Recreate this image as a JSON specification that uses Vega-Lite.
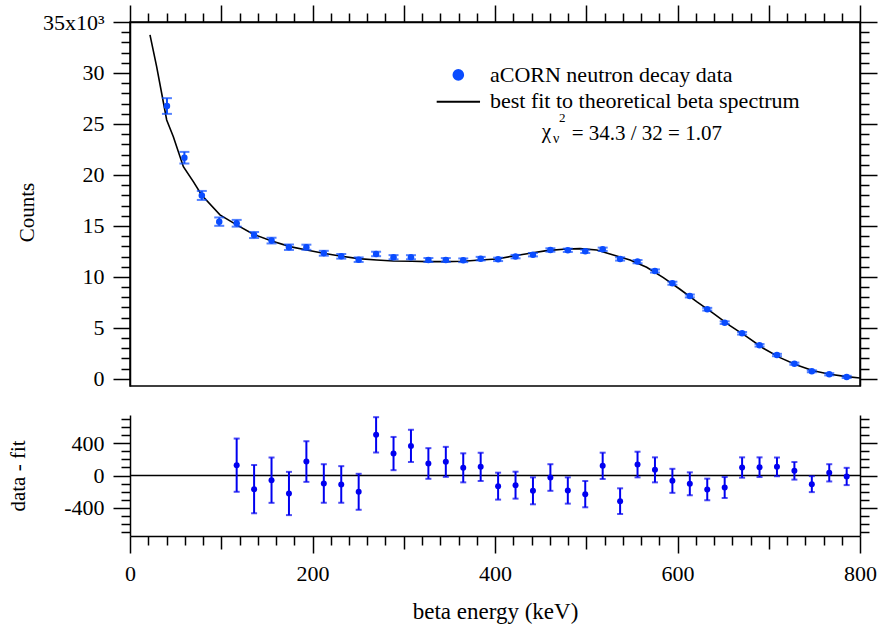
{
  "$schema": "https://vega.github.io/schema/vega-lite/v6.json",
  "background": "white",
  "padding": {"left": 7, "top": 3, "right": 3, "bottom": 3},
  "bounds": "flush",
  "spacing": 29,
  "config": {
    "font": "Liberation Serif",
    "view": {"stroke": null},
    "text": {"font": "Liberation Serif"},
    "axis": {
      "domainColor": "black", "tickColor": "black", "labelColor": "black", "titleColor": "black",
      "domainWidth": 1.5, "tickWidth": 1.5, "grid": false,
      "labelFont": "Liberation Serif", "titleFont": "Liberation Serif",
      "labelFontSize": 22, "titleFontSize": 21, "titleFontWeight": "normal",
      "labelOverlap": false, "labelFlush": false, "labelBound": false, "labelPadding": 9
    }
  },
  "datasets": {
    "spectrum": [
      {"E": 40.5, "counts": 26760, "err": 770, "resid": null},
      {"E": 59.6, "counts": 21690, "err": 570, "resid": null},
      {"E": 78.7, "counts": 17990, "err": 440, "resid": null},
      {"E": 97.8, "counts": 15420, "err": 410, "resid": null},
      {"E": 116.9, "counts": 15260, "err": 330, "resid": 128},
      {"E": 136.0, "counts": 14110, "err": 299, "resid": -169},
      {"E": 155.1, "counts": 13560, "err": 281, "resid": -58},
      {"E": 174.2, "counts": 12910, "err": 268, "resid": -223},
      {"E": 193.3, "counts": 12910, "err": 252, "resid": 173},
      {"E": 212.4, "counts": 12320, "err": 239, "resid": -99},
      {"E": 231.5, "counts": 12020, "err": 227, "resid": -111},
      {"E": 250.6, "counts": 11690, "err": 223, "resid": -202},
      {"E": 269.7, "counts": 12250, "err": 219, "resid": 504},
      {"E": 288.8, "counts": 11930, "err": 206, "resid": 272},
      {"E": 307.9, "counts": 11930, "err": 200, "resid": 367},
      {"E": 327.0, "counts": 11660, "err": 190, "resid": 149},
      {"E": 346.1, "counts": 11660, "err": 186, "resid": 169},
      {"E": 365.2, "counts": 11630, "err": 180, "resid": 95},
      {"E": 384.3, "counts": 11790, "err": 175, "resid": 107},
      {"E": 403.4, "counts": 11720, "err": 167, "resid": -132},
      {"E": 422.5, "counts": 11990, "err": 167, "resid": -120},
      {"E": 441.6, "counts": 12180, "err": 167, "resid": -190},
      {"E": 460.7, "counts": 12640, "err": 165, "resid": -25},
      {"E": 479.8, "counts": 12610, "err": 163, "resid": -186},
      {"E": 498.9, "counts": 12510, "err": 163, "resid": -231},
      {"E": 518.0, "counts": 12710, "err": 163, "resid": 120},
      {"E": 537.1, "counts": 11760, "err": 159, "resid": -318},
      {"E": 556.2, "counts": 11500, "err": 159, "resid": 136},
      {"E": 575.3, "counts": 10580, "err": 155, "resid": 70},
      {"E": 594.4, "counts": 9380, "err": 149, "resid": -66},
      {"E": 613.5, "counts": 8130, "err": 142, "resid": -103},
      {"E": 632.6, "counts": 6830, "err": 134, "resid": -173},
      {"E": 651.7, "counts": 5510, "err": 130, "resid": -149},
      {"E": 670.8, "counts": 4470, "err": 126, "resid": 99},
      {"E": 689.9, "counts": 3290, "err": 122, "resid": 103},
      {"E": 709.0, "counts": 2340, "err": 116, "resid": 107},
      {"E": 728.1, "counts": 1490, "err": 109, "resid": 58},
      {"E": 747.2, "counts": 745, "err": 99, "resid": -107},
      {"E": 766.3, "counts": 450, "err": 107, "resid": 33},
      {"E": 785.4, "counts": 190, "err": 107, "resid": -12}
    ],
    "fit": [
      {"E": 21.9, "fit": 33730}, {"E": 29.2, "fit": 30620}, {"E": 34.7, "fit": 28010},
      {"E": 40.2, "fit": 25390}, {"E": 47.5, "fit": 23750}, {"E": 58.5, "fit": 20810},
      {"E": 69.4, "fit": 19340}, {"E": 78.5, "fit": 18040}, {"E": 98.6, "fit": 16080},
      {"E": 116.9, "fit": 15100}, {"E": 135.2, "fit": 14180}, {"E": 155.3, "fit": 13520},
      {"E": 175.3, "fit": 12970}, {"E": 193.6, "fit": 12640}, {"E": 211.9, "fit": 12320},
      {"E": 230.1, "fit": 12050}, {"E": 250.2, "fit": 11790}, {"E": 270.3, "fit": 11660},
      {"E": 288.6, "fit": 11560}, {"E": 308.7, "fit": 11530}, {"E": 326.9, "fit": 11500},
      {"E": 345.2, "fit": 11500}, {"E": 365.3, "fit": 11530}, {"E": 383.6, "fit": 11660},
      {"E": 401.8, "fit": 11760}, {"E": 420.0, "fit": 12050}, {"E": 438.4, "fit": 12320},
      {"E": 456.6, "fit": 12580}, {"E": 478.5, "fit": 12740}, {"E": 493.2, "fit": 12770},
      {"E": 511.5, "fit": 12640}, {"E": 529.7, "fit": 12150}, {"E": 548.0, "fit": 11660},
      {"E": 566.2, "fit": 10950}, {"E": 584.5, "fit": 9930}, {"E": 602.7, "fit": 8790},
      {"E": 621.0, "fit": 7570}, {"E": 639.3, "fit": 6430}, {"E": 657.5, "fit": 5220},
      {"E": 675.8, "fit": 4140}, {"E": 694.0, "fit": 3000}, {"E": 712.3, "fit": 2080},
      {"E": 730.6, "fit": 1360}, {"E": 748.8, "fit": 800}, {"E": 767.0, "fit": 450},
      {"E": 785.4, "fit": 220}, {"E": 800.0, "fit": 90}
    ]
  },
  "vconcat": [
    {
      "width": 730,
      "height": 364,
      "view": {"stroke": "black", "strokeWidth": 1.5},
      "layer": [
        {
          "data": {"name": "fit"},
          "mark": {"type": "line", "color": "black", "strokeWidth": 1.6},
          "encoding": {
            "x": {"field": "E", "type": "quantitative",
              "scale": {"domain": [0, 800], "nice": false, "zero": false},
              "axis": {"orient": "top", "title": null, "labels": false,
                "values": [0,20,40,60,80,100,120,140,160,180,200,220,240,260,280,300,320,340,360,380,400,420,440,460,480,500,520,540,560,580,600,620,640,660,680,700,720,740,760,780,800],
                "tickSize": {"condition": {"test": "datum.value % 100 === 0", "value": 17}, "value": 9}}},
            "y": {"field": "fit", "type": "quantitative",
              "scale": {"domain": [-700, 35000], "nice": false, "zero": false},
              "axis": {"orient": "right", "title": null, "labels": false,
                "values": [0,1000,2000,3000,4000,5000,6000,7000,8000,9000,10000,11000,12000,13000,14000,15000,16000,17000,18000,19000,20000,21000,22000,23000,24000,25000,26000,27000,28000,29000,30000,31000,32000,33000,34000,35000],
                "tickSize": {"condition": {"test": "datum.value % 5000 === 0", "value": 17}, "value": 9}}}
          }
        },
        {
          "data": {"name": "spectrum"},
          "mark": {"type": "errorbar", "color": "#0a4cff", "thickness": 2, "ticks": {"size": 10, "thickness": 2}},
          "encoding": {
            "x": {"field": "E", "type": "quantitative", "scale": {"domain": [0, 800], "nice": false, "zero": false}, "axis": null},
            "y": {"field": "counts", "type": "quantitative", "scale": {"domain": [-700, 35000], "nice": false, "zero": false}, "axis": null},
            "yError": {"field": "err"}
          }
        },
        {
          "data": {"name": "spectrum"},
          "mark": {"type": "circle", "size": 42, "color": "#0a4cff", "opacity": 1},
          "encoding": {
            "x": {"field": "E", "type": "quantitative", "scale": {"domain": [0, 800], "nice": false, "zero": false}, "axis": null},
            "y": {"field": "counts", "type": "quantitative",
              "scale": {"domain": [-700, 35000], "nice": false, "zero": false},
              "axis": {"orient": "left", "title": "Counts", "titleX": -103, "titleY": 190, "titleBaseline": "middle", "titleAngle": 270,
                "values": [0,1000,2000,3000,4000,5000,6000,7000,8000,9000,10000,11000,12000,13000,14000,15000,16000,17000,18000,19000,20000,21000,22000,23000,24000,25000,26000,27000,28000,29000,30000,31000,32000,33000,34000,35000],
                "labelExpr": "datum.value % 5000 === 0 ? (datum.value === 35000 ? '35x10³' : '' + datum.value / 1000) : ''",
                "tickSize": {"condition": {"test": "datum.value % 5000 === 0", "value": 17}, "value": 9}}}
          }
        },
        {
          "data": {"values": [{}]},
          "mark": {"type": "circle", "size": 135, "color": "#0a4cff", "opacity": 1},
          "encoding": {
            "x": {"datum": 359.8, "type": "quantitative", "axis": null},
            "y": {"datum": 29810, "type": "quantitative", "axis": null}
          }
        },
        {
          "data": {"values": [{}]},
          "mark": {"type": "rule", "color": "black", "strokeWidth": 2},
          "encoding": {
            "x": {"datum": 336.1, "type": "quantitative", "axis": null},
            "x2": {"datum": 383.6},
            "y": {"datum": 27190, "type": "quantitative", "axis": null}
          }
        },
        {
          "data": {"values": [{}]},
          "mark": {"type": "text", "align": "left", "baseline": "alphabetic", "fontSize": 22, "color": "black", "font": "Liberation Serif"},
          "encoding": {
            "x": {"datum": 394.5, "type": "quantitative", "axis": null},
            "y": {"datum": 29150, "type": "quantitative", "axis": null},
            "text": {"value": "aCORN neutron decay data"}
          }
        },
        {
          "data": {"values": [{}]},
          "mark": {"type": "text", "align": "left", "baseline": "alphabetic", "fontSize": 22, "color": "black", "font": "Liberation Serif"},
          "encoding": {
            "x": {"datum": 394.5, "type": "quantitative", "axis": null},
            "y": {"datum": 26540, "type": "quantitative", "axis": null},
            "text": {"value": "best fit to theoretical beta spectrum"}
          }
        },
        {
          "data": {"values": [{}]},
          "mark": {"type": "text", "align": "left", "baseline": "alphabetic", "fontSize": 21, "color": "black", "font": "Liberation Serif"},
          "encoding": {
            "x": {"datum": 451.2, "type": "quantitative", "axis": null},
            "y": {"datum": 23630, "type": "quantitative", "axis": null},
            "text": {"value": "χ"}
          }
        },
        {
          "data": {"values": [{}]},
          "mark": {"type": "text", "align": "left", "baseline": "alphabetic", "fontSize": 14, "color": "black", "font": "Liberation Serif"},
          "encoding": {
            "x": {"datum": 463.6, "type": "quantitative", "axis": null},
            "y": {"datum": 23110, "type": "quantitative", "axis": null},
            "text": {"value": "ν"}
          }
        },
        {
          "data": {"values": [{}]},
          "mark": {"type": "text", "align": "left", "baseline": "alphabetic", "fontSize": 13, "color": "black", "font": "Liberation Serif"},
          "encoding": {
            "x": {"datum": 470, "type": "quantitative", "axis": null},
            "y": {"datum": 25230, "type": "quantitative", "axis": null},
            "text": {"value": "2"}
          }
        },
        {
          "data": {"values": [{}]},
          "mark": {"type": "text", "align": "left", "baseline": "alphabetic", "fontSize": 21, "color": "black", "font": "Liberation Serif"},
          "encoding": {
            "x": {"datum": 484, "type": "quantitative", "axis": null},
            "y": {"datum": 23430, "type": "quantitative", "axis": null},
            "text": {"value": "= 34.3 / 32 = 1.07"}
          }
        }
      ],
      "resolve": {"axis": {"x": "independent", "y": "independent"}}
    },
    {
      "width": 730,
      "height": 121,
      "view": {"stroke": null},
      "layer": [
        {
          "data": {"values": [{}]},
          "mark": {"type": "rule", "color": "black", "strokeWidth": 1.5},
          "encoding": {
            "y": {"datum": 0, "type": "quantitative",
              "scale": {"domain": [-750, 750], "nice": false, "zero": false},
              "axis": {"orient": "right", "title": null, "labels": false,
                "values": [-700,-600,-500,-400,-300,-200,-100,0,100,200,300,400,500,600,700],
                "tickSize": {"condition": {"test": "datum.value % 400 === 0", "value": 17}, "value": 9}}}
          }
        },
        {
          "data": {"name": "spectrum"},
          "transform": [{"filter": "isValid(datum.resid)"}],
          "mark": {"type": "errorbar", "color": "#0000f0", "thickness": 2, "ticks": {"size": 6, "thickness": 2}},
          "encoding": {
            "x": {"field": "E", "type": "quantitative", "scale": {"domain": [0, 800], "nice": false, "zero": false}, "axis": null},
            "y": {"field": "resid", "type": "quantitative", "scale": {"domain": [-750, 750], "nice": false, "zero": false}, "axis": null},
            "yError": {"field": "err"}
          }
        },
        {
          "data": {"name": "spectrum"},
          "transform": [{"filter": "isValid(datum.resid)"}],
          "mark": {"type": "circle", "size": 36, "color": "#0000f0", "opacity": 1},
          "encoding": {
            "x": {"field": "E", "type": "quantitative",
              "scale": {"domain": [0, 800], "nice": false, "zero": false},
              "axis": {"orient": "bottom", "title": "beta energy (keV)", "titleFontSize": 23,
                "titleY": 75, "titleBaseline": "middle",
                "labelBaseline": "middle", "labelPadding": 20,
                "values": [0,20,40,60,80,100,120,140,160,180,200,220,240,260,280,300,320,340,360,380,400,420,440,460,480,500,520,540,560,580,600,620,640,660,680,700,720,740,760,780,800],
                "labelExpr": "datum.value % 200 === 0 ? '' + datum.value : ''",
                "tickSize": {"condition": [{"test": "datum.value % 200 === 0", "value": 17}, {"test": "datum.value % 100 === 0", "value": 13}], "value": 9}}},
            "y": {"field": "resid", "type": "quantitative",
              "scale": {"domain": [-750, 750], "nice": false, "zero": false},
              "axis": {"orient": "left", "title": "data - fit", "titleX": -112, "titleBaseline": "middle", "titleAngle": 270,
                "values": [-700,-600,-500,-400,-300,-200,-100,0,100,200,300,400,500,600,700],
                "labelExpr": "datum.value % 400 === 0 ? '' + datum.value : ''",
                "tickSize": {"condition": {"test": "datum.value % 400 === 0", "value": 17}, "value": 9}}}
          }
        }
      ],
      "resolve": {"axis": {"x": "independent", "y": "independent"}}
    }
  ]
}
